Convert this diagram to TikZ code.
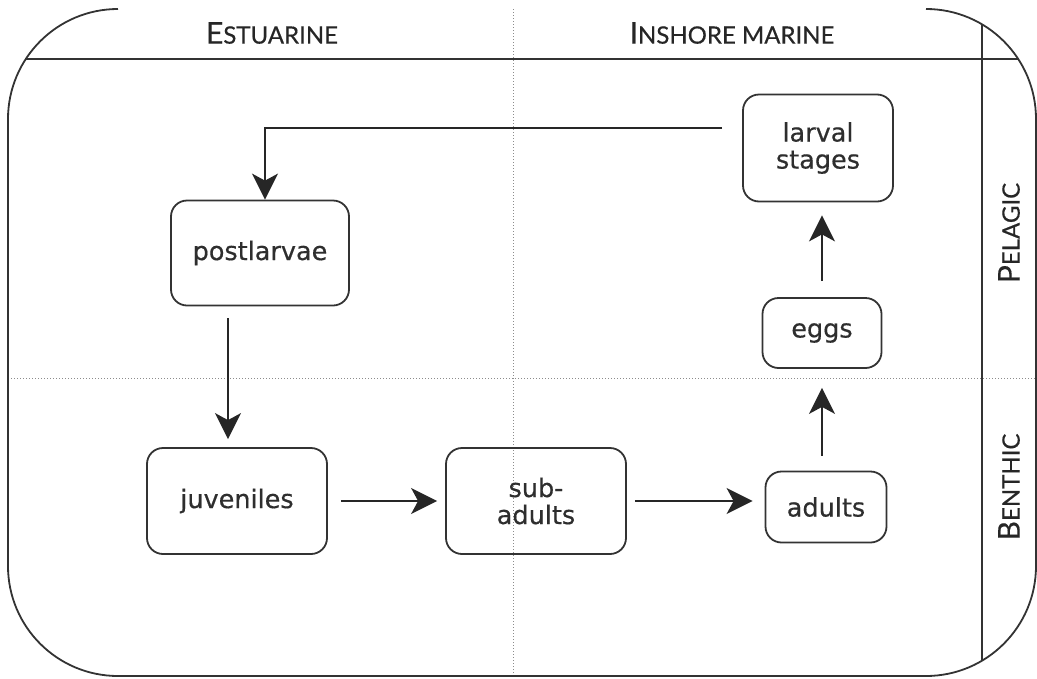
\documentclass[tikz,border=0pt]{standalone}
\usepackage{fontspec}
\setmainfont{DejaVu Sans}
\newfontfamily\stagefont[FakeBold=0.5]{DejaVu Sans}
\newfontfamily\capsfont[FakeBold=0.4]{Lato}
\usepackage{xcolor}
\usetikzlibrary{positioning, arrows.meta}
\definecolor{ink}{HTML}{333333}
\definecolor{dots}{HTML}{8C8C8C}
\newcommand{\smcap}[2]{{\capsfont\fontsize{30}{31}\selectfont #1\fontsize{24}{25}\selectfont #2}}

\begin{document}
\begin{tikzpicture}[x=1pt, y=-1pt,
  stage/.style={draw=ink, line width=1.8pt, rounded corners=16pt,
                font=\stagefont\fontsize{25.5}{27}\selectfont\color{ink!90!black},
                align=center, inner sep=0pt},
  zone/.style={font=\color{black!85}},
  rule/.style={draw=ink, line width=1.8pt},
  split/.style={draw=dots, dotted, line width=1pt},
  arrow/.style={-{Stealth[length=26pt, width=26pt, inset=7pt]}, color=black!85,
                line width=1.8pt}
]
  \useasboundingbox (0,0) rectangle (1037,678);

  % frame and zones
  \begin{scope}
    \clip[rounded corners=110pt] (8,9) rectangle (1036,676);
    \draw[rule]  (8,59) -- (1036,59);
    \draw[rule]  (982,9) -- (982,676);
    \draw[split] (513,9) -- (513,676);
    \draw[split] (8,378) -- (1036,378);
  \end{scope}
  \draw[rule, rounded corners=110pt] (118,9) -- (8,9) -- (8,676) -- (1036,676)
    -- (1036,9) -- (926,9);

  \node[zone] (est) at (272,33) {\smcap{E}{STUARINE}};
  \node[zone] (ins) at (732,33) {\smcap{I}{NSHORE MARINE}};
  \node[zone, rotate=90] (pel) at (1009,233) {\smcap{P}{ELAGIC}};
  \node[zone, rotate=90] (ben) at (1009,487) {\smcap{B}{ENTHIC}};

  % life stages
  \node[stage, minimum width=150pt, minimum height=107pt] (larv) at (818,148) {larval\\stages};
  \node[stage, minimum width=178pt, minimum height=105pt] (post) at (260,253) {postlarvae};
  \node[stage, minimum width=119pt, minimum height=70pt]  (egg)  at (822,333) {eggs};
  \node[stage, minimum width=180pt, minimum height=106pt] (juv)  at (237,501) {juveniles};
  \node[stage, minimum width=180pt, minimum height=106pt] (sub)  at (536,501) {sub-\\adults};
  \node[stage, minimum width=121pt, minimum height=71pt]  (adu)  at (826,507) {adults};

  \coordinate (pj) at ([xshift=-9pt]juv.north);

  \draw[arrow] ([shift={(-20,-20)}]larv.west) -| ([xshift=5pt]post.north);
  \draw[arrow, shorten <=12pt, shorten >=8pt] (post.south -| pj) -- (pj);
  \draw[arrow, shorten <=13pt, shorten >=8pt] (juv) -- (sub);
  \draw[arrow, shorten <=8pt, shorten >=12pt] (sub.east) -- (sub.east -| adu.west);
  \draw[arrow, shorten <=15pt, shorten >=19pt] (adu.north -| egg) -- (egg.south);
  \draw[arrow, shorten <=16pt, shorten >=13pt] (egg.north) -- (egg.north |- larv.south);
\end{tikzpicture}
\end{document}
